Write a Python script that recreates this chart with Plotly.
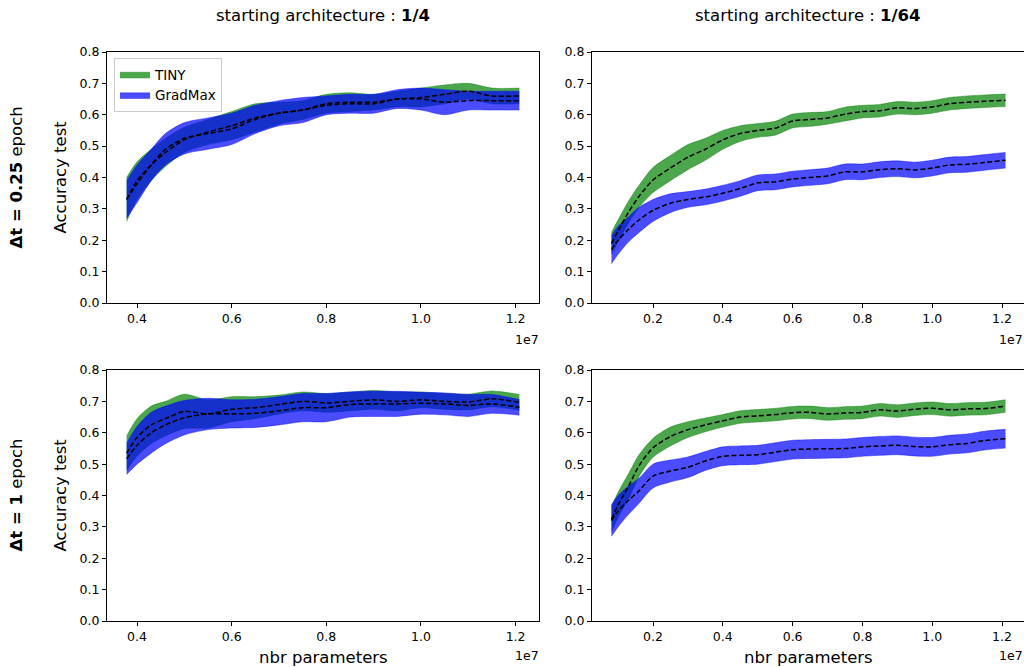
import plotly.graph_objects as go

# ---------------- data (x in units of parameters) ----------------
x_left = [0.378, 0.40, 0.43, 0.46, 0.50, 0.55, 0.60, 0.65, 0.70, 0.75, 0.80,
          0.85, 0.90, 0.95, 1.00, 1.05, 1.10, 1.15, 1.208]
x_right = [0.081, 0.10, 0.13, 0.16, 0.20, 0.25, 0.30, 0.35, 0.40, 0.45, 0.50,
           0.55, 0.60, 0.65, 0.70, 0.75, 0.80, 0.85, 0.90, 0.95, 1.00, 1.05,
           1.10, 1.15, 1.21]

# top-left : dt = 0.25 epoch, start 1/4
tiny_mean_tl = [0.33, 0.39, 0.44, 0.48, 0.52, 0.545, 0.565, 0.59, 0.605, 0.615,
                0.635, 0.64, 0.64, 0.65, 0.655, 0.665, 0.675, 0.66, 0.66]
tiny_std_tl = [0.07, 0.06, 0.05, 0.045, 0.04, 0.04, 0.045, 0.045, 0.035, 0.03,
               0.03, 0.03, 0.025, 0.025, 0.03, 0.03, 0.025, 0.025, 0.025]
grad_mean_tl = [0.33, 0.38, 0.44, 0.49, 0.525, 0.54, 0.555, 0.585, 0.605, 0.615,
                0.63, 0.635, 0.635, 0.65, 0.65, 0.64, 0.645, 0.645, 0.645]
grad_std_tl = [0.06, 0.06, 0.05, 0.05, 0.05, 0.05, 0.05, 0.045, 0.04, 0.04,
               0.03, 0.03, 0.03, 0.03, 0.035, 0.04, 0.03, 0.03, 0.03]

# top-right : dt = 0.25 epoch, start 1/64
tiny_mean_tr = [0.19, 0.23, 0.29, 0.34, 0.392, 0.43, 0.465, 0.49, 0.52, 0.54,
                0.55, 0.557, 0.58, 0.585, 0.59, 0.602, 0.61, 0.613, 0.622, 0.62,
                0.625, 0.635, 0.64, 0.643, 0.646]
tiny_std_tr = [0.035, 0.035, 0.035, 0.035, 0.04, 0.04, 0.04, 0.035, 0.03, 0.025,
               0.022, 0.022, 0.022, 0.022, 0.02, 0.022, 0.02, 0.02, 0.02, 0.02,
               0.02, 0.02, 0.02, 0.02, 0.02]
grad_mean_tr = [0.17, 0.20, 0.235, 0.265, 0.295, 0.318, 0.33, 0.338, 0.35, 0.365,
                0.383, 0.386, 0.395, 0.40, 0.405, 0.418, 0.418, 0.425, 0.428,
                0.424, 0.43, 0.44, 0.442, 0.448, 0.455]
grad_std_tr = [0.045, 0.045, 0.04, 0.04, 0.035, 0.03, 0.025, 0.025, 0.025, 0.025,
               0.025, 0.025, 0.025, 0.025, 0.025, 0.025, 0.025, 0.025, 0.025,
               0.025, 0.025, 0.025, 0.025, 0.025, 0.025]

# bottom-left : dt = 1 epoch, start 1/4
tiny_mean_bl = [0.535, 0.585, 0.625, 0.645, 0.668, 0.66, 0.675, 0.68, 0.69, 0.70,
                0.695, 0.70, 0.705, 0.70, 0.705, 0.70, 0.698, 0.708, 0.697]
tiny_std_bl = [0.055, 0.06, 0.06, 0.055, 0.055, 0.045, 0.04, 0.035, 0.03, 0.03,
               0.03, 0.03, 0.03, 0.03, 0.025, 0.025, 0.025, 0.025, 0.025]
grad_mean_bl = [0.517, 0.56, 0.60, 0.625, 0.648, 0.66, 0.66, 0.662, 0.67, 0.68,
                0.68, 0.69, 0.692, 0.692, 0.694, 0.692, 0.687, 0.692, 0.681]
grad_std_bl = [0.05, 0.06, 0.065, 0.06, 0.055, 0.05, 0.045, 0.045, 0.045, 0.045,
               0.045, 0.04, 0.04, 0.04, 0.035, 0.035, 0.035, 0.03, 0.025]

# bottom-right : dt = 1 epoch, start 1/64
tiny_mean_br = [0.325, 0.37, 0.43, 0.495, 0.552, 0.588, 0.61, 0.625, 0.638, 0.65,
                0.654, 0.658, 0.664, 0.665, 0.66, 0.663, 0.665, 0.673, 0.669,
                0.675, 0.678, 0.673, 0.676, 0.677, 0.685]
tiny_std_br = [0.04, 0.04, 0.04, 0.035, 0.03, 0.03, 0.025, 0.022, 0.02, 0.02,
               0.02, 0.02, 0.02, 0.02, 0.02, 0.02, 0.02, 0.02, 0.02, 0.02,
               0.02, 0.02, 0.02, 0.02, 0.02]
grad_mean_br = [0.32, 0.35, 0.385, 0.415, 0.462, 0.478, 0.49, 0.51, 0.525, 0.528,
                0.53, 0.538, 0.546, 0.548, 0.549, 0.55, 0.555, 0.558, 0.56,
                0.556, 0.555, 0.562, 0.566, 0.575, 0.581]
grad_std_br = [0.05, 0.05, 0.045, 0.04, 0.038, 0.035, 0.033, 0.03, 0.03, 0.03,
               0.03, 0.03, 0.03, 0.03, 0.03, 0.03, 0.03, 0.03, 0.03, 0.03,
               0.03, 0.03, 0.03, 0.03, 0.03]

series_names = ["TINY", "GradMax"]
col_titles = ["starting architecture : <b>1/4</b>", "starting architecture : <b>1/64</b>"]
row_titles = ["<b>Δt = 0.25</b> epoch", "<b>Δt = 1</b> epoch"]
x_title = "nbr parameters"
y_title = "Accuracy test"
x_ticks_left = [0.4, 0.6, 0.8, 1.0, 1.2]
x_ticks_right = [0.2, 0.4, 0.6, 0.8, 1.0, 1.2]
y_ticks = [0.0, 0.1, 0.2, 0.3, 0.4, 0.5, 0.6, 0.7, 0.8]
SCALE = 1e7

# ---------------- figure ----------------
W, H = 1024, 667
fill_colors = ["rgba(0,128,0,0.7)", "rgba(0,0,255,0.7)"]
font = "DejaVu Sans, Verdana, sans-serif"

panels = [
    ("", x_left, tiny_mean_tl, tiny_std_tl, grad_mean_tl, grad_std_tl, True),
    ("2", x_right, tiny_mean_tr, tiny_std_tr, grad_mean_tr, grad_std_tr, False),
    ("3", x_left, tiny_mean_bl, tiny_std_bl, grad_mean_bl, grad_std_bl, False),
    ("4", x_right, tiny_mean_br, tiny_std_br, grad_mean_br, grad_std_br, False),
]

fig = go.Figure()
for suf, xs, tm, ts, gm, gs, leg in panels:
    xa, ya = "x" + suf, "y" + suf
    xv = [v * SCALE for v in xs]
    means = [tm, gm]
    stds = [ts, gs]
    for k in range(2):
        lo = [m - s for m, s in zip(means[k], stds[k])]
        hi = [m + s for m, s in zip(means[k], stds[k])]
        fig.add_trace(go.Scatter(x=xv, y=lo, xaxis=xa, yaxis=ya, mode="lines",
                                 line=dict(width=0.6, color=fill_colors[k],
                                           shape="spline", smoothing=0.8),
                                 showlegend=False, hoverinfo="skip"))
        fig.add_trace(go.Scatter(x=xv, y=hi, xaxis=xa, yaxis=ya, mode="lines",
                                 line=dict(width=0.6, color=fill_colors[k],
                                           shape="spline", smoothing=0.8),
                                 fill="tonexty", fillcolor=fill_colors[k],
                                 name=series_names[k], showlegend=leg))
    for k in range(2):
        fig.add_trace(go.Scatter(x=xv, y=means[k], xaxis=xa, yaxis=ya, mode="lines",
                                 line=dict(color="black", width=1.5, dash="5px,2.5px",
                                           shape="spline", smoothing=0.8),
                                 showlegend=False))

def px_x(p):
    return p / W

def px_y(p):
    return 1 - p / H

dom_x = [[px_x(107), px_x(539)], [px_x(592), 1.0]]
dom_y = [[px_y(303), px_y(52)], [px_y(621), px_y(370)]]
range_left = [0.3365 * SCALE, 1.2495 * SCALE]
range_right = [0.0252 * SCALE, 1.263 * SCALE]

axis_common = dict(showline=True, linecolor="black", linewidth=1, ticks="outside",
                   ticklen=4, tickcolor="black", showgrid=False, zeroline=False,
                   automargin=False,
                   tickfont=dict(family=font, size=12.5, color="black"))

layout = dict(width=W, height=H, margin=dict(l=0, r=0, t=0, b=0, pad=0),
              autosize=False,
              plot_bgcolor="white", paper_bgcolor="white",
              font=dict(family=font, color="black"))

for i, (r, c) in enumerate([(0, 0), (0, 1), (1, 0), (1, 1)]):
    suf = "" if i == 0 else str(i + 1)
    ticks = x_ticks_left if c == 0 else x_ticks_right
    xa = dict(axis_common, domain=dom_x[c], anchor="y" + suf,
              range=range_left if c == 0 else range_right,
              tickvals=[t * SCALE for t in ticks],
              ticktext=[f"{t:.1f}" for t in ticks],
              mirror=True)
    ya = dict(axis_common, domain=dom_y[r], anchor="x" + suf, range=[0, 0.8],
              tickvals=y_ticks, ticktext=[f"{t:.1f}" for t in y_ticks],
              mirror=(c == 0))
    layout["xaxis" + suf] = xa
    layout["yaxis" + suf] = ya

annotations = []
for c, txt in enumerate(col_titles):
    cx = (dom_x[c][0] + dom_x[c][1]) / 2
    annotations.append(dict(text=txt, x=cx, y=px_y(16), xref="paper", yref="paper",
                            showarrow=False, xanchor="center", yanchor="middle",
                            font=dict(family=font, size=16.5)))
    annotations.append(dict(text=x_title, x=cx, y=px_y(657), xref="paper",
                            yref="paper", showarrow=False, xanchor="center",
                            yanchor="middle", font=dict(family=font, size=16.5)))
for r, txt in enumerate(row_titles):
    cy = (dom_y[r][0] + dom_y[r][1]) / 2
    annotations.append(dict(text=txt, x=px_x(16), y=cy, xref="paper", yref="paper",
                            showarrow=False, textangle=-90, xanchor="center",
                            yanchor="middle", font=dict(family=font, size=16.5)))
    annotations.append(dict(text=y_title, x=px_x(60), y=cy, xref="paper",
                            yref="paper", showarrow=False, textangle=-90,
                            xanchor="center", yanchor="middle",
                            font=dict(family=font, size=16.5)))
for (xp, yp) in [(527, 339), (1011, 339), (527, 655), (1011, 655)]:
    annotations.append(dict(text="1e7", x=px_x(xp), y=px_y(yp), xref="paper",
                            yref="paper", showarrow=False, xanchor="center",
                            yanchor="middle", font=dict(family=font, size=12.5)))
layout["annotations"] = annotations

layout["legend"] = dict(x=px_x(114), y=px_y(58), xanchor="left", yanchor="top",
                        traceorder="normal",
                        bgcolor="rgba(255,255,255,0.8)", bordercolor="#cccccc",
                        borderwidth=1, font=dict(family=font, size=13.5),
                        itemwidth=30, tracegroupgap=0)

fig.update_layout(**layout)
fig.write_html(
    "out.html",
    config={"displayModeBar": False, "staticPlot": True},
    post_script=("document.documentElement.style.margin='0';"
                 "document.body.style.margin='0';"
                 "document.documentElement.style.overflow='hidden';"
                 "document.body.style.overflow='hidden';"),
)
